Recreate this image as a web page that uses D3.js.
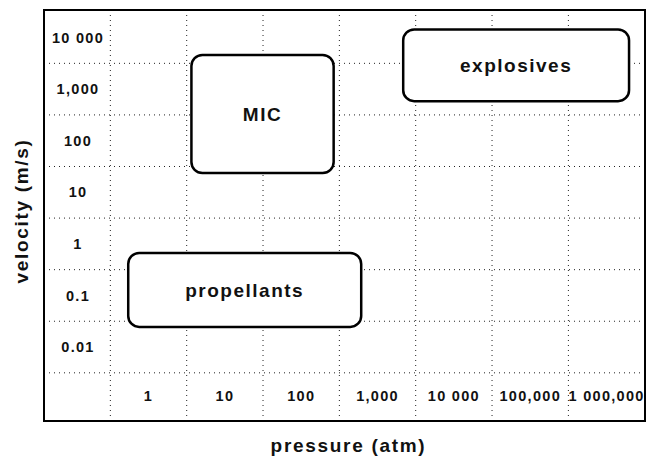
<!DOCTYPE html>
<html>
<head>
<meta charset="utf-8">
<script src="https://cdn.jsdelivr.net/npm/d3@7"></script>
<style>
  body { margin: 0; background: #fff; }
  text { font-family: "Liberation Sans", Arial, sans-serif; font-weight: bold; fill: #111; }
  .tick line { stroke: #222; stroke-dasharray: 1 4; }
</style>
</head>
<body>
<svg width="649" height="458"></svg>
<script>
// tick values (decades) and the labels printed next to them
var pressureTicks = [1, 10, 100, 1000, 10000, 100000, 1000000];
var pressureLabels = ["1", "10", "100", "1,000", "10 000", "100,000", "1 000,000"];
var velocityTicks = [10000, 1000, 100, 10, 1, 0.1, 0.01];
var velocityLabels = ["10 000", "1,000", "100", "10", "1", "0.1", "0.01"];

// grid sits between the labelled decades
var pressureGrid = [0.316, 3.16, 31.6, 316, 3160, 31600, 316000];
var velocityGrid = [3160, 316, 31.6, 3.16, 0.316, 0.0316, 0.00316];

// regions: [pressure min, pressure max] (atm), [velocity min, velocity max] (m/s)
var regionNames = ["MIC", "explosives", "propellants"];
var regionPressure = [[3.7, 270], [2200, 2000000], [0.55, 620]];
var regionVelocity = [[23, 4500], [570, 14000], [0.024, 0.65]];

var svg = d3.select("svg");
var margin = { top: 10, right: 4, bottom: 37, left: 44 },
    width = svg.attr("width") - margin.left - margin.right,
    height = svg.attr("height") - margin.top - margin.bottom;

var g = svg.append("g").attr("transform", "translate(" + margin.left + "," + margin.top + ")");

var x = d3.scaleLog()
    .domain([Math.pow(10, -1.363), Math.pow(10, 6.51)])
    .range([0, width]);

var y = d3.scaleLog()
    .domain([Math.pow(10, 4.524), Math.pow(10, -3.444)])
    .range([0, height]);

// dotted grid
g.append("g")
    .attr("class", "grid")
    .attr("transform", "translate(0," + height + ")")
    .call(d3.axisBottom(x).tickValues(pressureGrid).tickSize(-height).tickFormat(""))
    .call(function(s) { s.select(".domain").remove(); });

g.append("g")
    .attr("class", "grid")
    .call(d3.axisLeft(y).tickValues(velocityGrid).tickSize(-width).tickFormat(""))
    .call(function(s) { s.select(".domain").remove(); });

// tick labels inside the frame
g.append("g")
    .attr("transform", "translate(0," + (height - 25) + ")")
    .call(d3.axisBottom(x).tickValues(pressureTicks).tickSize(0).tickPadding(0)
        .tickFormat(function(d, i) { return pressureLabels[i]; }))
    .call(function(s) {
        s.select(".domain").remove();
        s.selectAll("text")
            .attr("dy", "0.35em")
            .attr("font-size", 14.5)
            .attr("letter-spacing", 1.3)
            .attr("font-family", null)
            .attr("fill", "#111");
    });

g.append("g")
    .attr("transform", "translate(34,0)")
    .call(d3.axisLeft(y).tickValues(velocityTicks).tickSize(0).tickPadding(0)
        .tickFormat(function(d, i) { return velocityLabels[i]; }))
    .call(function(s) {
        s.select(".domain").remove();
        s.selectAll("text")
            .attr("text-anchor", "middle")
            .attr("dy", "0.35em")
            .attr("font-size", 14.5)
            .attr("letter-spacing", 1.3)
            .attr("font-family", null)
            .attr("fill", "#111");
    });

// frame
g.append("rect")
    .attr("width", width)
    .attr("height", height)
    .attr("fill", "none")
    .attr("stroke", "#000")
    .attr("stroke-width", 2);

// region boxes
var region = g.selectAll(".region")
    .data(regionNames)
    .enter().append("g")
    .attr("class", "region");

region.append("rect")
    .attr("x", function(d, i) { return x(regionPressure[i][0]); })
    .attr("y", function(d, i) { return y(regionVelocity[i][1]); })
    .attr("width", function(d, i) { return x(regionPressure[i][1]) - x(regionPressure[i][0]); })
    .attr("height", function(d, i) { return y(regionVelocity[i][0]) - y(regionVelocity[i][1]); })
    .attr("rx", 11)
    .attr("fill", "#fff")
    .attr("stroke", "#000")
    .attr("stroke-width", 2.5);

region.append("text")
    .attr("x", function(d, i) { return (x(regionPressure[i][0]) + x(regionPressure[i][1])) / 2; })
    .attr("y", function(d, i) { return (y(regionVelocity[i][0]) + y(regionVelocity[i][1])) / 2; })
    .attr("text-anchor", "middle")
    .attr("dy", "0.35em")
    .attr("font-size", 19)
    .attr("letter-spacing", 1.5)
    .text(function(d) { return d; });

// axis titles
svg.append("text")
    .attr("x", margin.left + width / 2 + 4)
    .attr("y", 452)
    .attr("text-anchor", "middle")
    .attr("font-size", 19)
    .attr("letter-spacing", 1.7)
    .text("pressure (atm)");

svg.append("text")
    .attr("transform", "translate(28,211) rotate(-90)")
    .attr("text-anchor", "middle")
    .attr("font-size", 19)
    .attr("letter-spacing", 1.7)
    .text("velocity (m/s)");
</script>
</body>
</html>
